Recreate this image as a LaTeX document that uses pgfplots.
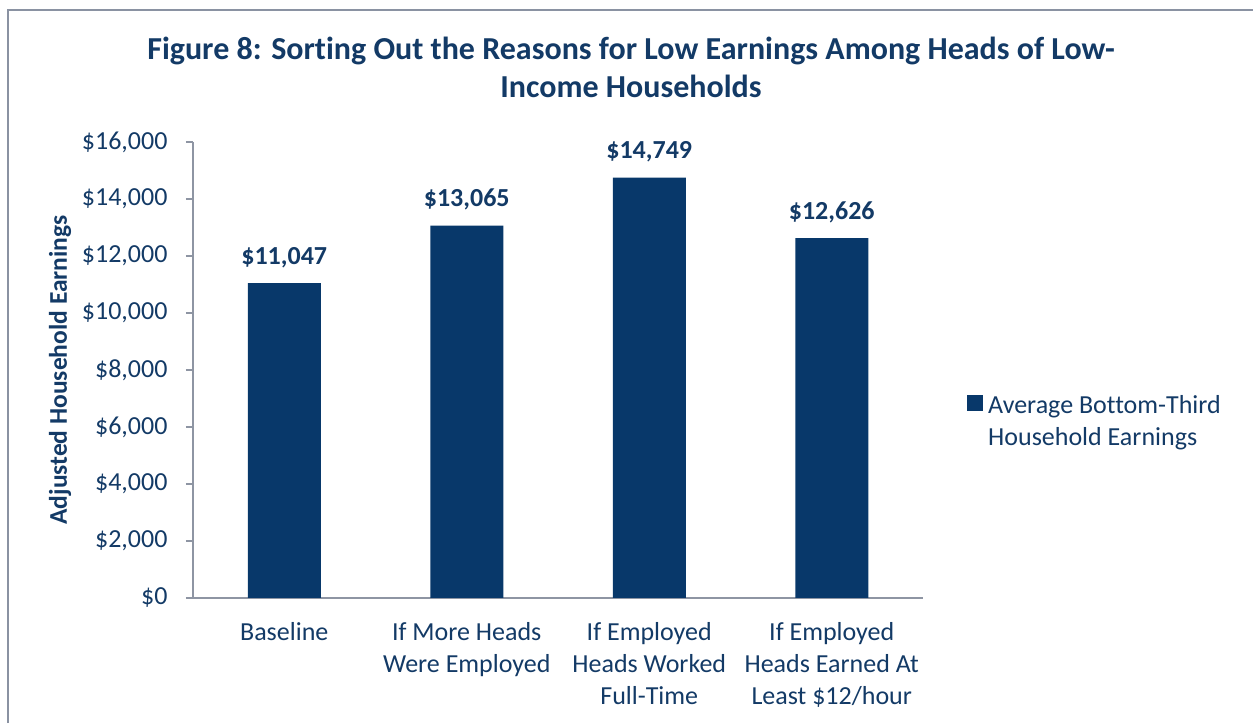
\documentclass[border=0pt]{standalone}
\usepackage{pgfplots}
\pgfplotsset{compat=1.18}
\usepackage{fontspec}
\setmainfont{Carlito}[Ligatures=NoCommon]
\definecolor{barnavy}{HTML}{08386A}
\definecolor{tnavy}{HTML}{133A66}
\definecolor{framegray}{HTML}{8A92A2}
\definecolor{axgray}{HTML}{8E95A3}
\begin{document}
\begin{tikzpicture}[x=1pt,y=1pt]
\useasboundingbox (0,0) rectangle (1253,723);
\draw[framegray, line width=2pt] (8,0) -- (8,713) -- (1253,713);
\node[font=\fontsize{32}{38}\selectfont\bfseries, text=tnavy, anchor=base] at (631,663) {Figure 8: Sorting Out the Reasons for Low Earnings Among Heads of Low-};
\node[font=\fontsize{32}{38}\selectfont\bfseries, text=tnavy, anchor=base] at (631,625) {Income Households};
\begin{axis}[
  at={(193pt,125pt)}, anchor=south west,
  scale only axis, width=730pt, height=456pt,
  ybar, bar width=73pt,
  xmin=-0.5, xmax=3.5, ymin=0, ymax=16000,
  enlargelimits=false,
  axis x line*=bottom, axis y line*=left,
  axis line style={axgray, line width=1.3pt, -},
  every tick/.style={axgray, line width=1.3pt},
  tick align=outside,
  xtick={0,1,2,3},
  xticklabels={Baseline, If More Heads\\Were Employed, If Employed\\Heads Worked\\Full-Time, If Employed\\Heads Earned At\\Least \$12/hour},
  x tick style={draw=none},
  x tick label style={align=center, anchor=north, font=\fontsize{26}{32}\selectfont, text=tnavy, yshift=-14pt},
  extra x ticks={-0.5,0.5,1.5,2.5,3.5},
  extra x tick labels={},
  extra x tick style={tick style={draw=axgray, line width=1.3pt}, major tick length=7pt},
  ytick={0,2000,...,16000},
  scaled y ticks=false,
  major tick length=7pt,
  y tick label style={font=\fontsize{26}{32}\selectfont, text=tnavy, anchor=east, xshift=-15pt},
  yticklabel={\$\pgfmathprintnumber{\tick}},
  /pgf/number format/.cd, fixed, precision=0, 1000 sep={,}, assume math mode=true, /pgfplots/.cd,
  ylabel={Adjusted Household Earnings},
  ylabel style={at={(axis description cs:-0.1822,0.5)}, anchor=center, font=\fontsize{25.5}{28}\selectfont\bfseries, text=tnavy},
  nodes near coords={\$\pgfmathprintnumber{\pgfplotspointmeta}},
  every node near coord/.append style={font=\fontsize{26}{32}\selectfont\bfseries, text=tnavy, anchor=base, yshift=19pt, inner sep=0pt},
  legend style={at={(axis description cs:1,0.3866)}, anchor=west, xshift=44pt, draw=none, fill=none, inner sep=0pt, nodes={align=left, font=\fontsize{26}{32}\selectfont, text=tnavy, inner sep=2pt}},
  legend cell align=left,
  legend image code/.code={\fill[barnavy] (0pt,11pt) rectangle (16pt,27pt);},
]
\addplot[fill=barnavy, draw=none] coordinates {(0,11047) (1,13065) (2,14749) (3,12626)};
\addlegendentry{\hspace{3pt}Average Bottom-Third\\\hspace{3pt}Household Earnings}
\end{axis}
\end{tikzpicture}
\end{document}
